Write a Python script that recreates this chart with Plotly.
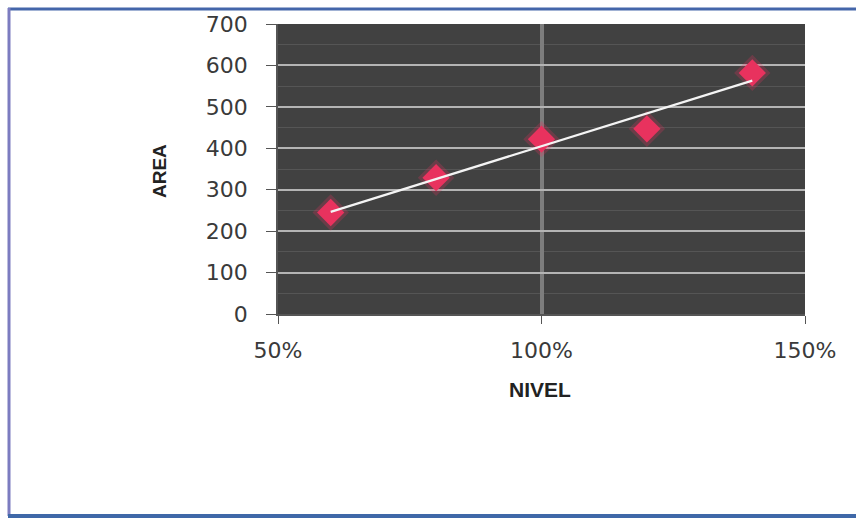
import numpy as np
import plotly.graph_objects as go

# Measured area at each concentration level
nivel = [0.6, 0.8, 1.0, 1.2, 1.4]
area = [245, 329, 422, 447, 582]

y_ticks = [0, 100, 200, 300, 400, 500, 600, 700]
x_ticks = [0.5, 1.0, 1.5]
x_tick_text = ["50%", "100%", "150%"]

W, H = 856, 518
L, R, T, B = 278, 51, 24, 204

# Least-squares linear trendline
slope, intercept = np.polyfit(nivel, area, 1)
trend_x = [nivel[0], nivel[-1]]
trend_y = [slope * v + intercept for v in trend_x]

fig = go.Figure()
# soft halo under each marker
fig.add_trace(go.Scatter(
    x=nivel, y=area, mode="markers",
    marker=dict(symbol="diamond", size=28, color="rgba(232,50,94,0.25)",
                line=dict(width=0)),
    showlegend=False, hoverinfo="skip",
))
fig.add_trace(go.Scatter(
    x=nivel, y=area, mode="markers",
    marker=dict(symbol="diamond", size=21, color="#e8325e",
                line=dict(width=0)),
    showlegend=False,
))
fig.add_trace(go.Scatter(
    x=trend_x, y=trend_y, mode="lines",
    line=dict(color="#f4f4f4", width=2.2), showlegend=False,
))

pw, ph = W - L - R, H - T - B


def px_x(p):
    return (p - L) / pw


def px_y(p):
    return (H - B - p) / ph


frame = [
    (8, 9, 856, 9, "#4466aa", 3),
    (9, 8, 9, 516, "#7c7cc0", 3),
    (8, 516, 856, 516, "#3f68a8", 4),
]
shapes = [
    dict(type="line", xref="paper", yref="paper",
         x0=px_x(a), y0=px_y(b), x1=px_x(c), y1=px_y(d),
         line=dict(color=col, width=w))
    for a, b, c, d, col, w in frame
]

tick_font = dict(size=22, color="#3a3a3a", family="DejaVu Sans, sans-serif")
title_family = "Liberation Sans, Arial, sans-serif"

fig.update_layout(
    width=W, height=H,
    margin=dict(l=L, r=R, t=T, b=B),
    paper_bgcolor="white",
    plot_bgcolor="#414141",
    shapes=shapes,
    xaxis=dict(
        range=[0.5, 1.5], tickvals=x_ticks, ticktext=x_tick_text,
        showgrid=True, gridcolor="#7d7d7d", gridwidth=4,
        zeroline=False, showline=True, linecolor="#555555", linewidth=1.5,
        ticks="outside", ticklen=8, tickcolor="#555555",
        ticklabelstandoff=8,
        tickfont=tick_font,
    ),
    yaxis=dict(
        range=[0, 700], tickvals=y_ticks,
        showgrid=True, gridcolor="#b4b4b4", gridwidth=1.5,
        minor=dict(dtick=50, showgrid=True, gridcolor="#555555", gridwidth=1),
        zeroline=False, showline=True, linecolor="#555555", linewidth=1.5,
        ticks="outside", ticklen=10, tickcolor="#555555",
        ticklabelstandoff=14,
        tickfont=tick_font,
    ),
    annotations=[
        dict(text="<b>NIVEL</b>", xref="paper", yref="paper",
             x=px_x(540), y=px_y(389), xanchor="center", yanchor="middle",
             showarrow=False,
             font=dict(size=21, color="#222222", family=title_family)),
        dict(text="<b>AREA</b>", xref="paper", yref="paper",
             x=px_x(159), y=px_y(171), xanchor="center", yanchor="middle",
             showarrow=False, textangle=-90,
             font=dict(size=19, color="#222222", family=title_family)),
    ],
)

fig.write_html("out.html")
